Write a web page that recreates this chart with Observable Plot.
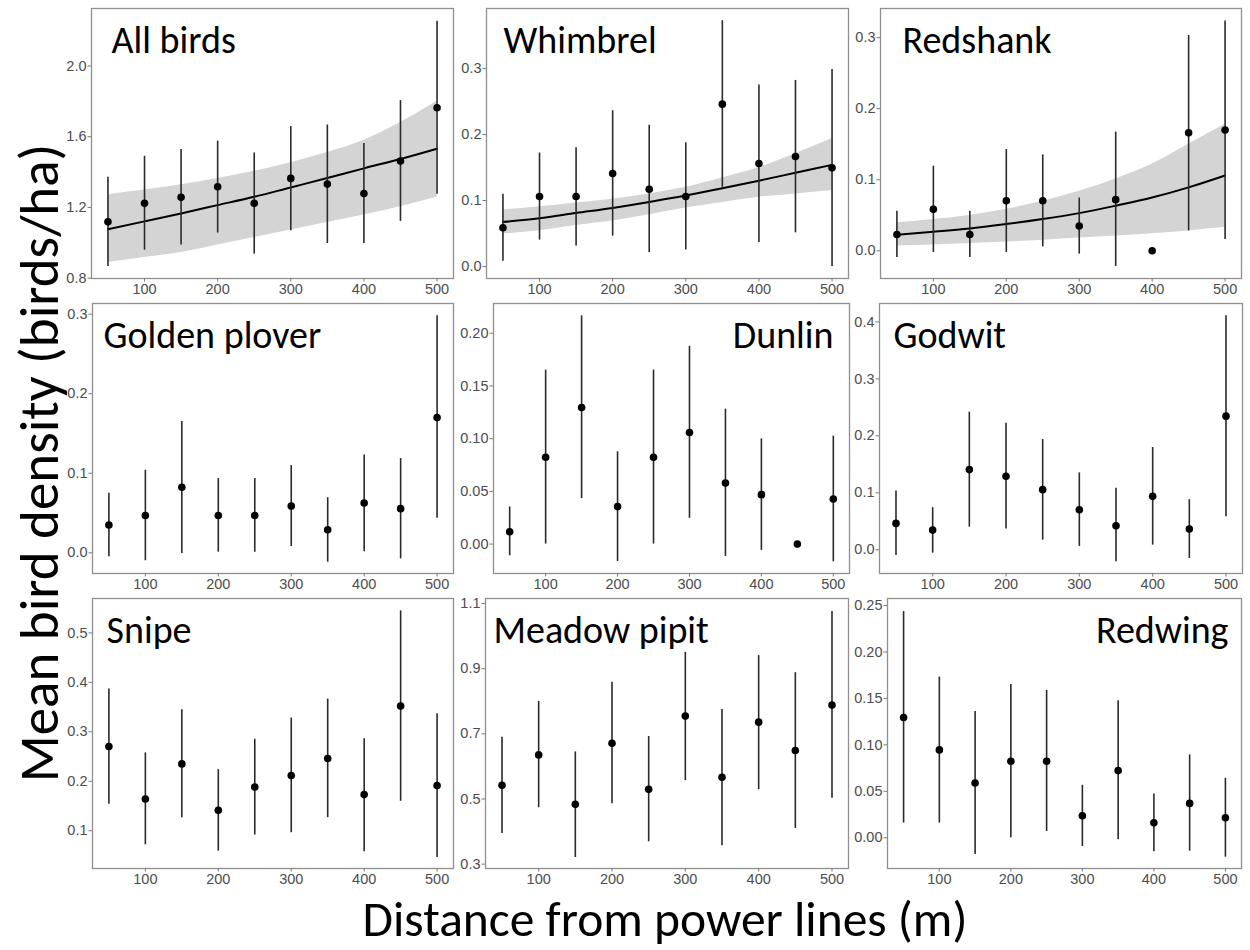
<!DOCTYPE html>
<html>
<head>
<meta charset="utf-8">
<script src="https://cdn.jsdelivr.net/npm/d3@7"></script>
<script src="https://cdn.jsdelivr.net/npm/@observablehq/plot@0.6"></script>
<style>
  body { margin: 0; background: #fff; }
  #wrap { position: relative; width: 1250px; height: 950px; overflow: hidden; background: #fff; }
  .panel { position: absolute; }
  .panel svg { max-width: none !important; }
  .panel g[aria-label$="tick label"] { font-size: 14.5px; }
  #titles { position: absolute; left: 0; top: 0; }
</style>
</head>
<body>
<div id="wrap"></div>
<script>
// ---------- data ----------
const distance = [50, 100, 150, 200, 250, 300, 350, 400, 450, 500];
const xTicks = [100, 200, 300, 400, 500];

// All birds
const allBirdsMean  = [1.119, 1.223, 1.257, 1.317, 1.223, 1.364, 1.332, 1.279, 1.462, 1.764];
const allBirdsLower = [0.866, 0.958, 0.987, 1.055, 0.936, 1.068, 0.996, 0.996, 1.121, 1.275];
const allBirdsUpper = [1.370, 1.489, 1.528, 1.575, 1.508, 1.657, 1.666, 1.562, 1.804, 2.253];
const allBirdsFit   = [1.077, 1.121, 1.166, 1.213, 1.260, 1.313, 1.366, 1.421, 1.474, 1.532];
const allBirdsFitLo = [0.889, 0.917, 0.945, 0.987, 1.030, 1.072, 1.115, 1.157, 1.204, 1.257];
const allBirdsFitHi = [1.272, 1.298, 1.328, 1.363, 1.404, 1.452, 1.510, 1.580, 1.680, 1.800];
const allBirdsTicks = [0.8, 1.2, 1.6, 2.0];
const allBirdsDomain = [0.798, 2.325];

// Whimbrel
const whimbrelMean  = [0.0588, 0.106, 0.106, 0.141, 0.117, 0.106, 0.246, 0.156, 0.1667, 0.1495];
const whimbrelLower = [0.0081, 0.040, 0.031, 0.046, 0.021, 0.025, 0.120, 0.0365, 0.051, 0.0];
const whimbrelUpper = [0.1095, 0.172, 0.180, 0.236, 0.214, 0.1875, 0.3725, 0.275, 0.282, 0.2985];
const whimbrelFit   = [0.0674, 0.073, 0.081, 0.0887, 0.0978, 0.1075, 0.1186, 0.130, 0.142, 0.154];
const whimbrelFitLo = [0.049, 0.054, 0.062, 0.069, 0.0786, 0.0887, 0.097, 0.105, 0.110, 0.115];
const whimbrelFitHi = [0.0857, 0.0907, 0.0963, 0.102, 0.110, 0.120, 0.134, 0.150, 0.171, 0.1936];
const whimbrelTicks = [0, 0.1, 0.2, 0.3];
const whimbrelDomain = [-0.0182, 0.391];

// Redshank
const redshankMean  = [0.023, 0.0583, 0.023, 0.0705, 0.0705, 0.0348, 0.072, 0.0, 0.166, 0.170];
const redshankLower = [-0.0094, -0.0024, -0.0094, -0.0024, 0.0056, -0.0047, -0.022, null, 0.028, 0.016];
const redshankUpper = [0.0555, 0.119, 0.0555, 0.1425, 0.135, 0.0743, 0.167, null, 0.303, 0.3235];
const redshankFit   = [0.0226, 0.0268, 0.0315, 0.0376, 0.0447, 0.053, 0.0635, 0.075, 0.0893, 0.106];
const redshankFitLo = [0.0066, 0.008, 0.0103, 0.0122, 0.015, 0.0179, 0.0207, 0.024, 0.028, 0.033];
const redshankFitHi = [0.0395, 0.0442, 0.0498, 0.0583, 0.0696, 0.0837, 0.101, 0.122, 0.150, 0.178];
const redshankTicks = [0, 0.1, 0.2, 0.3];
const redshankDomain = [-0.039, 0.341];

// Golden plover
const goldenPloverMean  = [0.0349, 0.047, 0.0824, 0.047, 0.047, 0.0588, 0.029, 0.0626, 0.0555, 0.170];
const goldenPloverLower = [-0.005, -0.010, -0.0008, 0.0008, 0.0008, 0.008, -0.0118, 0.0013, -0.0076, 0.0433];
const goldenPloverUpper = [0.0748, 0.1038, 0.165, 0.0933, 0.0933, 0.1097, 0.0693, 0.123, 0.1185, 0.298];
const goldenPloverTicks = [0, 0.1, 0.2, 0.3];
const goldenPloverDomain = [-0.026, 0.3134];

// Dunlin
const dunlinMean  = [0.0117, 0.0824, 0.1296, 0.0355, 0.0824, 0.1059, 0.058, 0.0469, 0.0, 0.0428];
const dunlinLower = [-0.0111, 0.0, 0.0431, -0.0165, 0.0, 0.0244, -0.0117, -0.006, null, -0.0168];
const dunlinUpper = [0.0352, 0.165, 0.2165, 0.0875, 0.165, 0.1876, 0.128, 0.0998, null, 0.1024];
const dunlinTicks = [0, 0.05, 0.10, 0.15, 0.20];
const dunlinDomain = [-0.0279, 0.2282];

// Godwit
const godwitMean  = [0.0463, 0.0346, 0.1408, 0.129, 0.1056, 0.0704, 0.0422, 0.0938, 0.0364, 0.2346];
const godwitLower = [-0.01, -0.0059, 0.0399, 0.0364, 0.017, 0.0059, -0.0211, 0.0082, -0.0152, 0.058];
const godwitUpper = [0.1032, 0.0739, 0.2416, 0.2223, 0.1935, 0.1349, 0.1079, 0.1795, 0.088, 0.4106];
const godwitTicks = [0, 0.1, 0.2, 0.3, 0.4];
const godwitDomain = [-0.0416, 0.4323];

// Snipe
const snipeMean  = [0.2703, 0.1642, 0.2351, 0.1412, 0.1885, 0.2115, 0.246, 0.173, 0.352, 0.1912];
const snipeLower = [0.1534, 0.0716, 0.1264, 0.0588, 0.0912, 0.096, 0.1264, 0.0574, 0.1595, 0.046];
const snipeUpper = [0.3865, 0.2574, 0.3446, 0.2236, 0.2851, 0.3277, 0.3662, 0.2858, 0.5446, 0.3365];
const snipeTicks = [0.1, 0.2, 0.3, 0.4, 0.5];
const snipeDomain = [0.0236, 0.5696];

// Meadow pipit
const meadowPipitMean  = [0.542, 0.6354, 0.4836, 0.6713, 0.5297, 0.7544, 0.5667, 0.7359, 0.6487, 0.7882];
const meadowPipitLower = [0.3944, 0.4733, 0.3205, 0.4856, 0.3687, 0.5564, 0.3564, 0.5287, 0.4097, 0.502];
const meadowPipitUpper = [0.6897, 0.7995, 0.6446, 0.858, 0.6918, 0.9503, 0.7749, 0.94, 0.8877, 1.0754];
const meadowPipitTicks = [0.3, 0.5, 0.7, 0.9, 1.1];
const meadowPipitDomain = [0.2867, 1.1154];

// Redwing
const redwingMean  = [0.1295, 0.0946, 0.059, 0.0824, 0.0824, 0.0237, 0.0723, 0.0162, 0.037, 0.0216];
const redwingLower = [0.0158, 0.0158, -0.018, 0.0, 0.0068, -0.0094, -0.0022, -0.0151, -0.0144, -0.0209];
const redwingUpper = [0.2435, 0.173, 0.136, 0.165, 0.1586, 0.0565, 0.1475, 0.0471, 0.0892, 0.064];
const redwingTicks = [0, 0.05, 0.10, 0.15, 0.20, 0.25];
const redwingDomain = [-0.0331, 0.2576];

const yTitle = "Mean bird density (birds/ha)";
const xTitle = "Distance from power lines (m)";

// ---------- panels ----------
const panels = [
  {name: "All birds", mean: allBirdsMean, lo: allBirdsLower, hi: allBirdsUpper, fit: allBirdsFit, fitLo: allBirdsFitLo, fitHi: allBirdsFitHi, ticks: allBirdsTicks, domain: allBirdsDomain, fmt: ".1f", left: 91, right: 453, top: 8, anchor: "left", dx: 20},
  {name: "Whimbrel", mean: whimbrelMean, lo: whimbrelLower, hi: whimbrelUpper, fit: whimbrelFit, fitLo: whimbrelFitLo, fitHi: whimbrelFitHi, ticks: whimbrelTicks, domain: whimbrelDomain, fmt: ".1f", left: 486, right: 848, top: 8, anchor: "left", dx: 17},
  {name: "Redshank", mean: redshankMean, lo: redshankLower, hi: redshankUpper, fit: redshankFit, fitLo: redshankFitLo, fitHi: redshankFitHi, ticks: redshankTicks, domain: redshankDomain, fmt: ".1f", left: 880, right: 1241, top: 8, anchor: "left", dx: 22},
  {name: "Golden plover", mean: goldenPloverMean, lo: goldenPloverLower, hi: goldenPloverUpper, ticks: goldenPloverTicks, domain: goldenPloverDomain, fmt: ".1f", left: 92, right: 453, top: 303, anchor: "left", dx: 11},
  {name: "Dunlin", mean: dunlinMean, lo: dunlinLower, hi: dunlinUpper, ticks: dunlinTicks, domain: dunlinDomain, fmt: ".2f", left: 493, right: 849, top: 303, anchor: "right", dx: -16},
  {name: "Godwit", mean: godwitMean, lo: godwitLower, hi: godwitUpper, ticks: godwitTicks, domain: godwitDomain, fmt: ".1f", left: 879, right: 1242, top: 303, anchor: "left", dx: 14},
  {name: "Snipe", mean: snipeMean, lo: snipeLower, hi: snipeUpper, ticks: snipeTicks, domain: snipeDomain, fmt: ".1f", left: 92, right: 453, top: 598, anchor: "left", dx: 14},
  {name: "Meadow pipit", mean: meadowPipitMean, lo: meadowPipitLower, hi: meadowPipitUpper, ticks: meadowPipitTicks, domain: meadowPipitDomain, fmt: ".1f", left: 485, right: 848, top: 598, anchor: "left", dx: 8},
  {name: "Redwing", mean: redwingMean, lo: redwingLower, hi: redwingUpper, ticks: redwingTicks, domain: redwingDomain, fmt: ".2f", left: 887, right: 1241, top: 598, anchor: "right", dx: -13}
];

const PANEL_H = 270;
const ML = 52, MR = 4, MT = 4, MB = 28;
const wrap = document.getElementById("wrap");
const titleFont = "Carlito, Lato, 'Open Sans', sans-serif";
const tickFont = "'Liberation Sans', Arial, sans-serif";

for (const p of panels) {
  const rows = distance.map((d, i) => ({
    d, m: p.mean[i], lo: p.lo[i], hi: p.hi[i],
    fit: p.fit ? p.fit[i] : null, fitLo: p.fitLo ? p.fitLo[i] : null, fitHi: p.fitHi ? p.fitHi[i] : null
  }));
  const w = p.right - p.left;
  const marks = [];
  if (p.fit) {
    marks.push(Plot.areaY(rows, {x: "d", y1: "fitLo", y2: "fitHi", fill: "#d4d4d4", curve: "monotone-x"}));
    marks.push(Plot.lineY(rows, {x: "d", y: "fit", stroke: "#000", strokeWidth: 2, curve: "monotone-x"}));
  }
  marks.push(
    Plot.ruleX(rows.filter(r => r.lo != null && r.hi != null), {x: "d", y1: "lo", y2: "hi", stroke: "#2a2a2a", strokeWidth: 1.6}),
    Plot.dot(rows, {x: "d", y: "m", r: 3.8, fill: "#000", stroke: "none"}),
    Plot.frame({stroke: "#8f8f8f", strokeWidth: 1.3}),
    Plot.axisX({ticks: xTicks, tickSize: 3.5, tickPadding: 2, stroke: "#7a7a7a", fill: "#4d4d4d", label: null, fontSize: 14.5}),
    Plot.axisY({ticks: p.ticks, tickSize: 3.5, tickPadding: 1.5, stroke: "#7a7a7a", fill: "#4d4d4d", label: null, fontSize: 14.5, tickFormat: d3.format(p.fmt)}),
    Plot.text([p.name], {
      text: d => d,
      frameAnchor: p.anchor === "left" ? "top-left" : "top-right",
      textAnchor: p.anchor === "left" ? "start" : "end",
      lineAnchor: "top",
      dx: p.dx, dy: 18,
      fontSize: 38, fontFamily: titleFont, fill: "#000"
    })
  );
  const chart = Plot.plot({
    width: w + ML + MR,
    height: PANEL_H + MT + MB,
    marginLeft: ML, marginRight: MR, marginTop: MT, marginBottom: MB,
    x: {domain: [27.5, 522.5], label: null},
    y: {domain: p.domain, label: null},
    style: {background: "transparent", fontFamily: tickFont, fontSize: "14.5px", overflow: "visible"},
    marks
  });
  const div = document.createElement("div");
  div.className = "panel";
  div.style.left = (p.left - ML) + "px";
  div.style.top = (p.top - MT) + "px";
  div.style.width = (w + ML + MR) + "px";
  div.appendChild(chart);
  wrap.appendChild(div);
}

// ---------- global axis titles ----------
const ns = "http://www.w3.org/2000/svg";
const svg = document.createElementNS(ns, "svg");
svg.setAttribute("id", "titles");
svg.setAttribute("width", 1250);
svg.setAttribute("height", 950);
svg.style.pointerEvents = "none";
const xt = document.createElementNS(ns, "text");
xt.setAttribute("x", 665);
xt.setAttribute("y", 936);
xt.setAttribute("text-anchor", "middle");
xt.setAttribute("font-family", titleFont);
xt.setAttribute("font-size", 49.5);
xt.textContent = xTitle;
svg.appendChild(xt);
const yt = document.createElementNS(ns, "text");
yt.setAttribute("transform", "translate(58,463) rotate(-90)");
yt.setAttribute("text-anchor", "middle");
yt.setAttribute("font-family", titleFont);
yt.setAttribute("font-size", 55);
yt.textContent = yTitle;
svg.appendChild(yt);
wrap.appendChild(svg);
</script>
</body>
</html>
